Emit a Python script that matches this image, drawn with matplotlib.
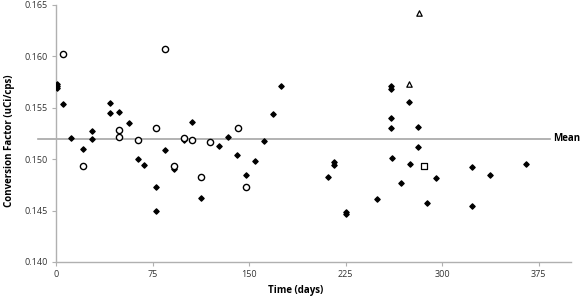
import numpy as np
import matplotlib.pyplot as plt

# filled diamonds (main series)
fill_days = [0.5, 0.5, 0.5, 5.7, 11.7, 21.2, 28.2, 28.2, 42, 42, 49, 56.7, 64, 68.1,
             77.5, 77.5, 84.7, 91.7, 99.7, 105.5, 112.7, 126.4, 133.6, 140.7, 147.7,
             154.7, 161.7, 168.4, 174.9, 211.1, 216.2, 216.2, 225.3, 225.3, 249.7,
             260.5, 260.5, 260.5, 260.5, 260.9, 268.0, 274.3, 275.1, 281.3, 281.3,
             288.1, 295.1, 323.1, 323.1, 337.3, 365.3]
fill_vals = [0.1573, 0.1571, 0.1569, 0.1554, 0.1521, 0.1510, 0.1527, 0.1520, 0.1555,
             0.1545, 0.1546, 0.1535, 0.1500, 0.1494, 0.1473, 0.1450, 0.1509, 0.1490,
             0.1519, 0.1536, 0.1462, 0.1513, 0.1522, 0.1504, 0.1485, 0.1498, 0.1518,
             0.1544, 0.1571, 0.1483, 0.1497, 0.1494, 0.1449, 0.1447, 0.1461, 0.1571,
             0.1568, 0.1540, 0.1530, 0.1501, 0.1477, 0.1556, 0.1495, 0.1531, 0.1512,
             0.1457, 0.1482, 0.1492, 0.1454, 0.1485, 0.1495]

# open circles
circ_days = [5.7, 20.7, 49, 49, 64, 77.5, 84.7, 91.7, 99.7, 106, 112.7, 119.7, 141, 147.7]
circ_vals = [0.1602, 0.1493, 0.1528, 0.1522, 0.1519, 0.1530, 0.1607, 0.1493, 0.1521,
             0.1519, 0.1483, 0.1517, 0.1530, 0.1473]

# open triangles
tri_days = [273.8, 281.6]
tri_vals = [0.1573, 0.1642]

# open square
sq_days = [285.5]
sq_vals = [0.1493]

mean_val = 0.1520

plt.rcParams['font.family'] = ['Open Sans', 'DejaVu Sans']

fig = plt.figure(figsize=(5.84, 2.97), dpi=100)
ax = fig.add_axes([56/584, 35/297, 515/584, 257/297])

ax.plot([-14, 384], [mean_val, mean_val], color='#a6a6a6', lw=1.2, clip_on=False, zorder=1)
ax.text(386, mean_val, 'Mean', fontsize=7, fontweight='bold', va='center', ha='left')

ax.scatter(fill_days, fill_vals, marker='D', s=7, color='black', zorder=3)
ax.scatter(circ_days, circ_vals, marker='o', s=20, facecolor='white', edgecolor='black',
           linewidth=1.0, zorder=4)
ax.scatter(tri_days, tri_vals, marker='^', s=15, facecolor='white', edgecolor='black',
           linewidth=0.9, zorder=4)
ax.scatter(sq_days, sq_vals, marker='s', s=15, facecolor='white', edgecolor='black',
           linewidth=0.9, zorder=4)

ax.set_xlim(0, 400)
ax.set_ylim(0.140, 0.165)
ax.set_xticks([0, 75, 150, 225, 300, 375])
ax.set_yticks([0.140, 0.145, 0.150, 0.155, 0.160, 0.165])
ax.set_yticklabels(['0.140', '0.145', '0.150', '0.155', '0.160', '0.165'])

for s in ['top', 'right']:
    ax.spines[s].set_visible(False)
for s in ['left', 'bottom']:
    ax.spines[s].set_color('#b0b0b0')
    ax.spines[s].set_linewidth(1.0)
ax.tick_params(axis='both', colors='#b0b0b0', labelcolor='#333333', labelsize=6.5,
               length=3, width=0.8, direction='out', pad=3)

ax.set_xlabel('Time (days)', fontsize=7, fontweight='bold')
ax.xaxis.set_label_coords(0.466, -0.09)
ax.set_ylabel('Conversion Factor (uCi/cps)', fontsize=7, fontweight='bold')
ax.yaxis.set_label_coords(-0.08, 0.47)

fig.savefig('out.png', dpi=100)
